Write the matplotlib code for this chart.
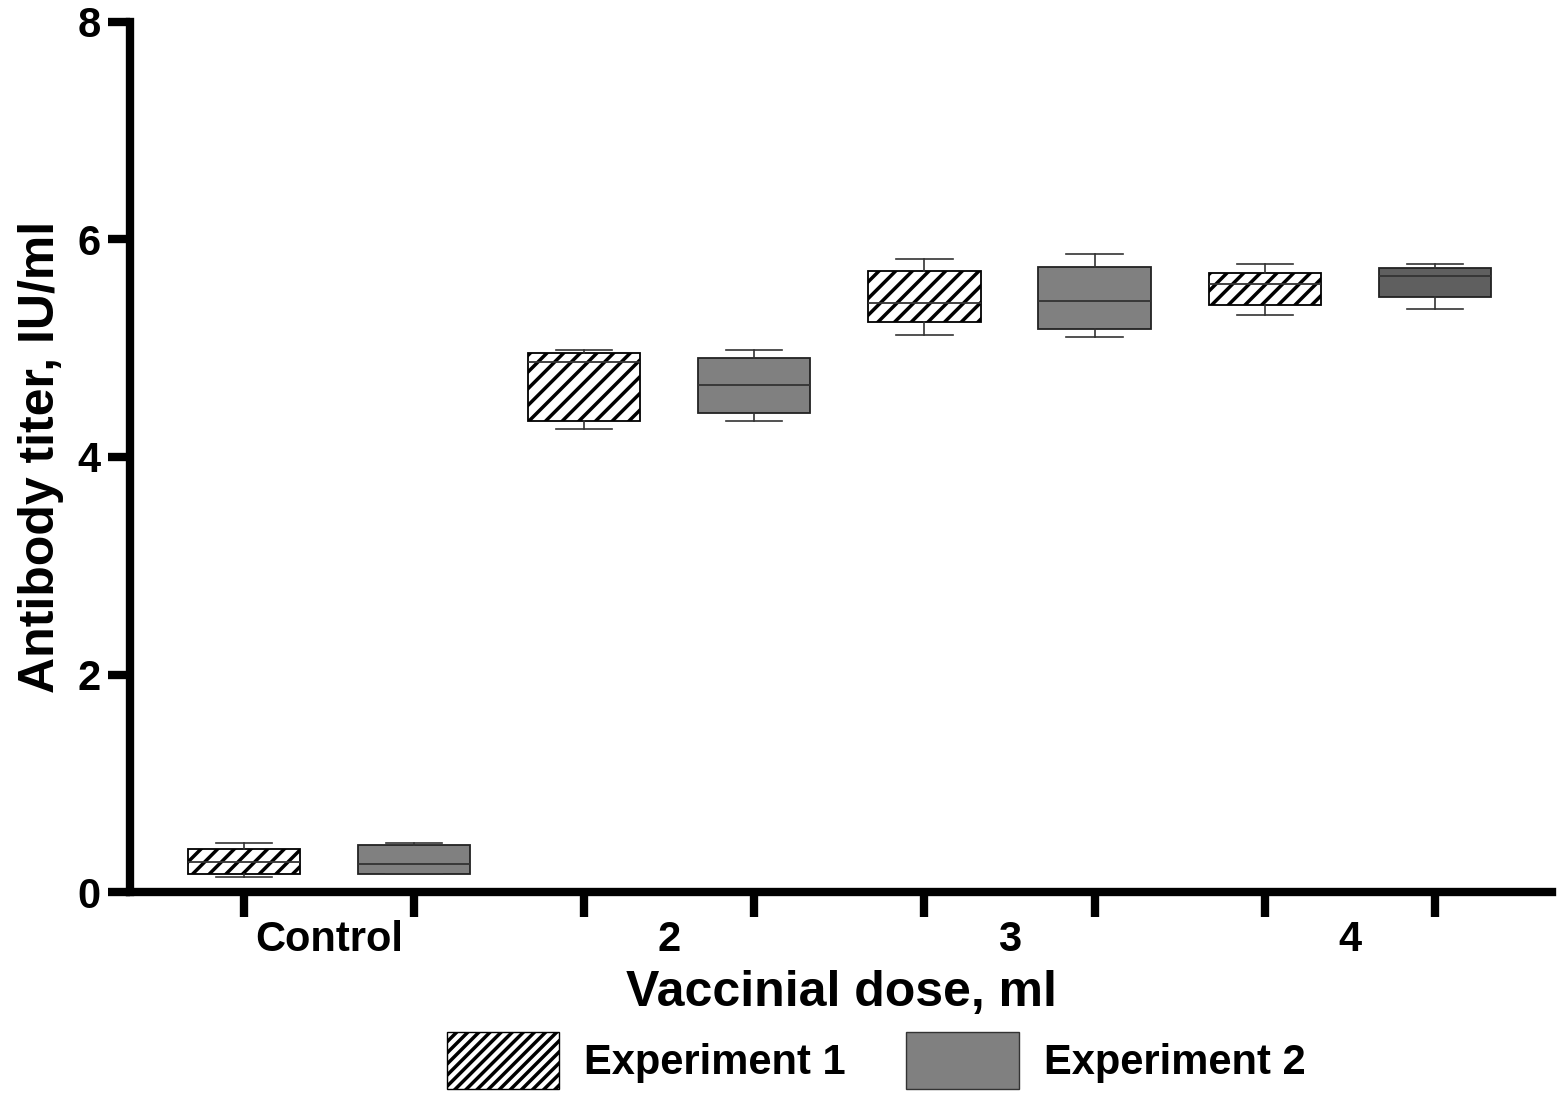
import matplotlib.pyplot as plt
from matplotlib.patches import Patch

plt.rcParams['font.family'] = 'Liberation Sans'
plt.rcParams['font.weight'] = 'bold'
plt.rcParams['hatch.linewidth'] = 2.5

groups = ['Control', '2', '3', '4']

# Experiment 1 (hatched)
exp1_whislo = [0.14, 4.26, 5.12, 5.31]
exp1_q1 = [0.17, 4.33, 5.24, 5.40]
exp1_med = [0.28, 4.87, 5.42, 5.59]
exp1_q3 = [0.40, 4.96, 5.71, 5.69]
exp1_whishi = [0.45, 4.98, 5.82, 5.77]

# Experiment 2 (grey)
exp2_whislo = [0.17, 4.33, 5.10, 5.36]
exp2_q1 = [0.17, 4.40, 5.18, 5.47]
exp2_med = [0.26, 4.66, 5.43, 5.66]
exp2_q3 = [0.43, 4.91, 5.75, 5.74]
exp2_whishi = [0.45, 4.98, 5.87, 5.77]

exp2_colors = ['#808080', '#808080', '#808080', '#5f5f5f']

def stats(lo, q1, med, q3, hi):
    return [dict(whislo=a, q1=b, med=c, q3=d, whishi=e, fliers=[])
            for a, b, c, d, e in zip(lo, q1, med, q3, hi)]

s1 = stats(exp1_whislo, exp1_q1, exp1_med, exp1_q3, exp1_whishi)
s2 = stats(exp2_whislo, exp2_q1, exp2_med, exp2_q3, exp2_whishi)

pos1 = [1 + 2 * i for i in range(len(groups))]
pos2 = [2 + 2 * i for i in range(len(groups))]

fig = plt.figure(figsize=(15.59, 10.98), dpi=100)
ax = fig.add_axes([0.0834, 0.1876, 0.9122, 0.7924])

common = dict(widths=0.66, patch_artist=True, showfliers=False,
              boxprops=dict(edgecolor='#222222', linewidth=1.3),
              medianprops=dict(color='#333333', linewidth=1.3),
              whiskerprops=dict(color='#333333', linewidth=1.2),
              capprops=dict(color='#333333', linewidth=1.2),
              capwidths=0.33)

b1 = ax.bxp(s1, positions=pos1, **common)
for box in b1['boxes']:
    box.set_facecolor('white')
    box.set_edgecolor('black')
    box.set_hatch('//')

b2 = ax.bxp(s2, positions=pos2, **common)
for box, c in zip(b2['boxes'], exp2_colors):
    box.set_facecolor(c)

ax.set_xlim(0.33, 8.69)
ax.set_ylim(0, 8)
ax.set_yticks([0, 2, 4, 6, 8])
ax.set_xticks(pos1 + pos2)
ax.set_xticklabels([])
ax.set_xticks([1.5 + 2 * i for i in range(len(groups))], minor=True)
ax.set_xticklabels(groups, minor=True)
ax.tick_params(axis='x', which='minor', length=0, labelsize=30, pad=20)
ax.tick_params(axis='x', which='major', length=18, width=6, direction='out')
ax.tick_params(axis='y', length=16, width=6, labelsize=30, pad=5)

for side in ['top', 'right']:
    ax.spines[side].set_visible(False)
for side in ['left', 'bottom']:
    ax.spines[side].set_linewidth(6)

ax.set_xlabel('Vaccinial dose, ml', fontsize=36, fontweight='bold', labelpad=7)
ax.set_ylabel('Antibody titer, IU/ml', fontsize=36, fontweight='bold', labelpad=10)

handles = [Patch(facecolor='white', edgecolor='black', hatch='///', label='Experiment 1'),
           Patch(facecolor='#808080', edgecolor='#333333', label='Experiment 2')]
fig.legend(handles=handles, loc='center', bbox_to_anchor=(0.562, 0.034), ncol=2,
           frameon=False, fontsize=30, handlelength=2.7, handleheight=1.75,
           columnspacing=1.45, handletextpad=0.6, borderpad=0)

fig.savefig('out.png', dpi=100)
